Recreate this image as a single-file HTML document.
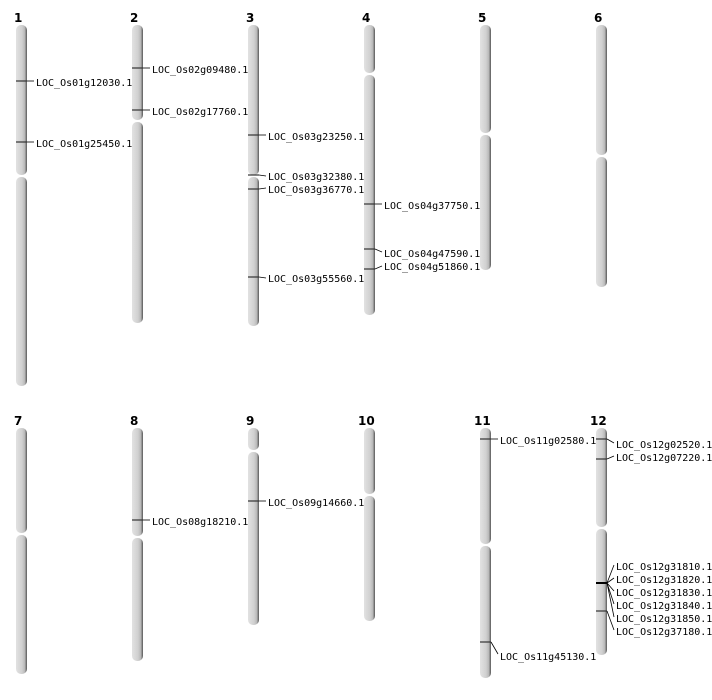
<!DOCTYPE html>
<html><head><meta charset="utf-8"><style>
html,body{margin:0;padding:0;background:#fff;}
svg{display:block;}
.n{font:bold 12px "DejaVu Sans","Liberation Sans",sans-serif;fill:#000;}
.l{font:10px "DejaVu Sans Mono","Liberation Mono",monospace;fill:#000;}
.m{stroke:#333;stroke-width:1.2;}
.c{stroke:#000;stroke-width:0.8;fill:none;}
</style></head><body>
<svg width="712" height="700" viewBox="0 0 712 700" xmlns="http://www.w3.org/2000/svg">
<defs>
<linearGradient id="g" x1="0" x2="1" y1="0" y2="0">
<stop offset="0" stop-color="#e2e2e2"/>
<stop offset="0.55" stop-color="#d0d0d0"/>
<stop offset="0.8" stop-color="#b8b8b8"/>
<stop offset="1" stop-color="#555"/>
</linearGradient>
</defs>
<g fill="url(#g)">
<!-- top row -->
<rect x="16" y="25" width="11" height="150" rx="5"/><rect x="16" y="177" width="11" height="209" rx="5"/>
<rect x="132" y="25" width="11" height="95" rx="5"/><rect x="132" y="122" width="11" height="201" rx="5"/>
<rect x="248" y="25" width="11" height="150" rx="5"/><rect x="248" y="177" width="11" height="149" rx="5"/>
<rect x="364" y="25" width="11" height="48" rx="5"/><rect x="364" y="75" width="11" height="240" rx="5"/>
<rect x="480" y="25" width="11" height="108" rx="5"/><rect x="480" y="135" width="11" height="135" rx="5"/>
<rect x="596" y="25" width="11" height="130" rx="5"/><rect x="596" y="157" width="11" height="130" rx="5"/>
<!-- bottom row -->
<rect x="16" y="428" width="11" height="105" rx="5"/><rect x="16" y="535" width="11" height="139" rx="5"/>
<rect x="132" y="428" width="11" height="108" rx="5"/><rect x="132" y="538" width="11" height="123" rx="5"/>
<rect x="248" y="428" width="11" height="22" rx="5"/><rect x="248" y="452" width="11" height="173" rx="5"/>
<rect x="364" y="428" width="11" height="66" rx="5"/><rect x="364" y="496" width="11" height="125" rx="5"/>
<rect x="480" y="428" width="11" height="116" rx="5"/><rect x="480" y="546" width="11" height="132" rx="5"/>
<rect x="596" y="428" width="11" height="99" rx="5"/><rect x="596" y="529" width="11" height="126" rx="5"/>
</g>
<g class="n">
<text x="14" y="22">1</text><text x="130" y="22">2</text><text x="246" y="22">3</text>
<text x="362" y="22">4</text><text x="478" y="22">5</text><text x="594" y="22">6</text>
<text x="14" y="425">7</text><text x="130" y="425">8</text><text x="246" y="425">9</text>
<text x="358" y="425">10</text><text x="474" y="425">11</text><text x="590" y="425">12</text>
</g>
<g class="m">
<line x1="16" y1="81" x2="27" y2="81"/><line x1="16" y1="142" x2="27" y2="142"/>
<line x1="132" y1="68" x2="143" y2="68"/><line x1="132" y1="110" x2="143" y2="110"/>
<line x1="248" y1="135" x2="259" y2="135"/><line x1="248" y1="175" x2="259" y2="175"/>
<line x1="248" y1="189" x2="259" y2="189"/><line x1="248" y1="277" x2="259" y2="277"/>
<line x1="364" y1="204" x2="375" y2="204"/><line x1="364" y1="249" x2="375" y2="249"/><line x1="364" y1="269" x2="375" y2="269"/>
<line x1="132" y1="520" x2="143" y2="520"/><line x1="248" y1="501" x2="259" y2="501"/>
<line x1="480" y1="439" x2="491" y2="439"/><line x1="480" y1="642" x2="491" y2="642"/>
<line x1="596" y1="439" x2="607" y2="439"/><line x1="596" y1="459" x2="607" y2="459"/>
<line x1="596" y1="583" x2="607" y2="583" style="stroke:#000;stroke-width:2"/><line x1="596" y1="611" x2="607" y2="611"/>
</g>
<g class="c">
<path d="M27 81H34"/><path d="M27 142H34"/>
<path d="M143 68H150"/><path d="M143 110H150"/>
<path d="M259 135H266"/><path d="M259 175L266 176"/><path d="M259 189L266 188"/><path d="M259 277L266 278"/>
<path d="M375 204H382"/><path d="M375 249L382 252"/><path d="M375 269L382 266"/>
<path d="M143 520H150"/><path d="M259 501H266"/>
<path d="M491 439H498"/><path d="M491 642L498 654"/>
<path d="M607 439L614 443"/><path d="M607 459L614 456"/>
<path d="M607 583L614 565M607 583L614 578M607 583L614 591M607 583L614 604M607 583L614 617M607 611L614 630"/>
</g>
<g class="l">
<text x="36" y="86">LOC_Os01g12030.1</text><text x="36" y="147">LOC_Os01g25450.1</text>
<text x="152" y="73">LOC_Os02g09480.1</text><text x="152" y="115">LOC_Os02g17760.1</text>
<text x="268" y="140">LOC_Os03g23250.1</text><text x="268" y="180">LOC_Os03g32380.1</text>
<text x="268" y="193">LOC_Os03g36770.1</text><text x="268" y="282">LOC_Os03g55560.1</text>
<text x="384" y="209">LOC_Os04g37750.1</text><text x="384" y="257">LOC_Os04g47590.1</text><text x="384" y="270">LOC_Os04g51860.1</text>
<text x="152" y="525">LOC_Os08g18210.1</text><text x="268" y="506">LOC_Os09g14660.1</text>
<text x="500" y="444">LOC_Os11g02580.1</text><text x="500" y="660">LOC_Os11g45130.1</text>
<text x="616" y="448">LOC_Os12g02520.1</text><text x="616" y="461">LOC_Os12g07220.1</text>
<text x="616" y="570">LOC_Os12g31810.1</text><text x="616" y="583">LOC_Os12g31820.1</text>
<text x="616" y="596">LOC_Os12g31830.1</text><text x="616" y="609">LOC_Os12g31840.1</text>
<text x="616" y="622">LOC_Os12g31850.1</text><text x="616" y="635">LOC_Os12g37180.1</text>
</g>
</svg>
</body></html>
